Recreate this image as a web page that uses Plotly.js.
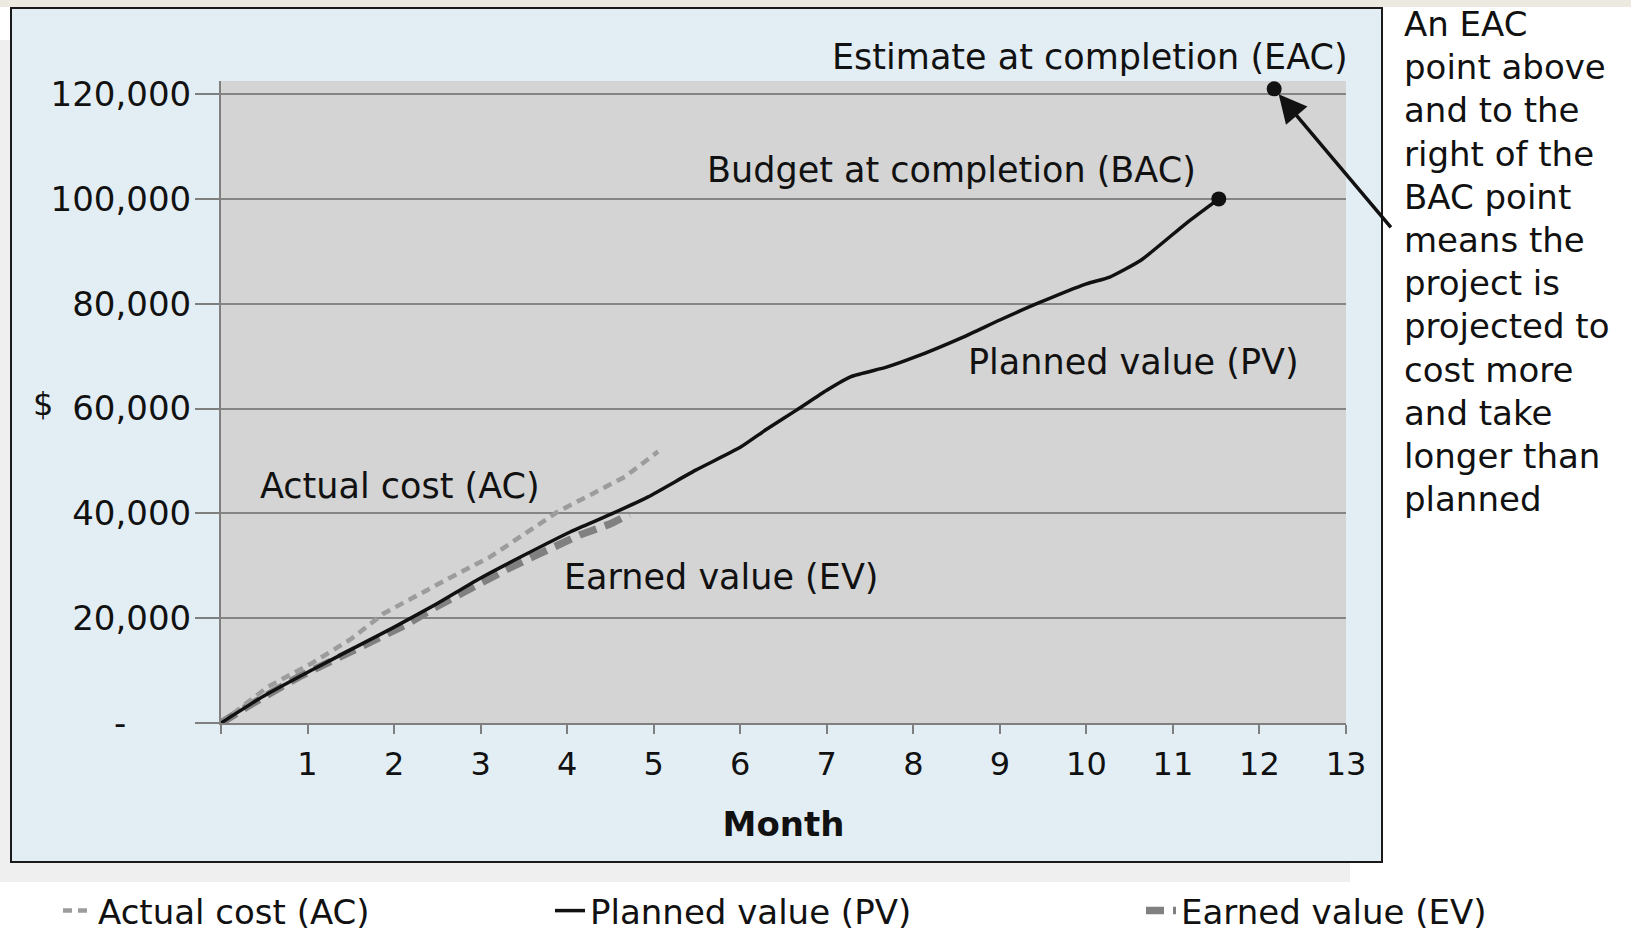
<!DOCTYPE html>
<html>
<head>
<meta charset="utf-8">
<script src="https://cdn.plot.ly/plotly-3.0.1.min.js"></script>
<style>
  html, body { margin: 0; padding: 0; background: #ffffff; }
  #chart { width: 1631px; height: 937px; }
</style>
</head>
<body>
<div id="chart"></div>
<script>
// ---- Data ----
const pvMonths = [0, 0.5, 1.05, 1.5, 1.98, 2.5, 2.96, 3.5, 4.04, 4.5, 4.93, 5.48, 6.0, 6.3, 6.65, 7.0, 7.28, 7.69, 8.0, 8.57, 9.0, 9.44, 10.0, 10.27, 10.63, 11.15, 11.53];
const pvValues = [0, 5200, 10100, 14000, 18100, 22800, 27300, 32000, 36500, 39800, 43100, 48200, 52600, 56000, 59700, 63500, 66100, 67900, 69700, 73600, 76900, 80100, 83800, 85100, 88300, 95300, 100000];

const acMonths = [0, 0.54, 1.05, 1.5, 1.88, 2.3, 2.6, 3.11, 3.63, 3.89, 4.3, 4.67, 5.05];
const acValues = [0, 6900, 11400, 16000, 20900, 24500, 27300, 31700, 37500, 40300, 43800, 47000, 51800];

const evMonths = [0, 0.33, 0.9, 1.3, 1.72, 2.13, 2.5, 2.91, 3.3, 3.73, 4.15, 4.5, 4.72];
const evValues = [0, 3400, 8800, 12000, 15300, 18700, 22300, 26000, 29300, 32700, 35900, 38000, 39800];

const bacPoint = {month: 11.53, value: 100000};
const eacPoint = {month: 12.17, value: 121000};

const yTickVals = [0, 20000, 40000, 60000, 80000, 100000, 120000];
const yTickText = ["-\u2007\u2007\u2007", "20,000", "40,000", "60,000", "80,000", "100,000", "120,000"];
const xTickVals = [0, 1, 2, 3, 4, 5, 6, 7, 8, 9, 10, 11, 12, 13];
const xTickText = ["", "1", "2", "3", "4", "5", "6", "7", "8", "9", "10", "11", "12", "13"];

const seriesNames = {ac: "Actual cost (AC)", pv: "Planned value (PV)", ev: "Earned value (EV)"};
const noteLines = ["An EAC", "point above", "and to the", "right of the", "BAC point", "means the", "project is", "projected to", "cost more", "and take", "longer than", "planned"];

// ---- Styling / layout ----
const FONT = "DejaVu Sans";
const TXT = "#111111";

// helpers converting reference pixel positions into paper coords for decoration
const L = 221, R = 285, T = 81, B = 214, W = 1631, H = 937;
const PW = W - L - R, PH = H - T - B;
const px = v => (v - L) / PW;
const py = v => (H - B - v) / PH;

const traces = [
  {
    x: evMonths, y: evValues, name: seriesNames.ev, type: "scatter", mode: "lines",
    line: {color: "#808080", width: 7.5, dash: "18px,9px"},
    legend: "legend3", hoverinfo: "skip"
  },
  {
    x: acMonths, y: acValues, name: seriesNames.ac, type: "scatter", mode: "lines",
    line: {color: "#9c9c9c", width: 4.5, dash: "9px,6px"},
    legend: "legend", hoverinfo: "skip"
  },
  {
    x: pvMonths, y: pvValues, name: seriesNames.pv, type: "scatter", mode: "lines",
    line: {color: "#111111", width: 3.5, shape: "spline", smoothing: 0.5},
    legend: "legend2", hoverinfo: "skip"
  },
  {
    x: [bacPoint.month, eacPoint.month], y: [bacPoint.value, eacPoint.value],
    type: "scatter", mode: "markers", showlegend: false, cliponaxis: false,
    marker: {color: "#111111", size: 15}, hoverinfo: "skip"
  }
];

const annFont = {family: FONT, size: 35, color: TXT};
const legendBase = {
  orientation: "h", xanchor: "left", y: py(911), yanchor: "middle",
  font: {family: FONT, size: 34, color: TXT}, bgcolor: "rgba(0,0,0,0)", itemwidth: 30
};

const noteAnnotations = noteLines.map((line, i) => ({
  text: line, xref: "paper", yref: "paper",
  x: px(1402), y: py(24 + i * 43.2), xanchor: "left", yanchor: "middle", align: "left",
  showarrow: false, font: {family: FONT, size: 34, color: TXT}
}));

const layout = {
  width: W, height: H,
  margin: {l: L, r: R, t: T, b: B, pad: 0, autoexpand: false},
  paper_bgcolor: "#ffffff",
  plot_bgcolor: "rgba(0,0,0,0)",
  font: {family: FONT, color: TXT},
  showlegend: true,
  legend: Object.assign({}, legendBase, {x: px(58)}),
  legend2: Object.assign({}, legendBase, {x: px(550)}),
  legend3: Object.assign({}, legendBase, {x: px(1141)}),
  xaxis: {
    range: [0, 13], tickvals: xTickVals, ticktext: xTickText,
    showgrid: false, zeroline: false,
    showline: true, linecolor: "#7f7f7f", linewidth: 2,
    ticks: "outside", ticklen: 9, tickwidth: 2, tickcolor: "#7f7f7f",
    tickfont: {family: FONT, size: 32, color: TXT}, ticklabelstandoff: 3,
    title: {text: "Month", font: {family: FONT, size: 34, color: TXT, weight: "bold"}, standoff: 30},
    fixedrange: true
  },
  yaxis: {
    range: [0, 122500], tickvals: yTickVals, ticktext: yTickText,
    showgrid: true, gridcolor: "#858585", gridwidth: 2, zeroline: false,
    showline: true, linecolor: "#7f7f7f", linewidth: 2,
    ticks: "outside", ticklen: 24, tickwidth: 2, tickcolor: "#7f7f7f",
    tickfont: {family: FONT, size: 34, color: TXT}, ticklabelstandoff: -3,
    fixedrange: true
  },
  shapes: [
    // top beige band
    {type: "rect", xref: "paper", yref: "paper", layer: "below",
     x0: px(0), x1: px(W), y0: py(0), y1: py(7), fillcolor: "#ece9e1", line: {width: 0}},
    // light shadow left / below the frame
    {type: "rect", xref: "paper", yref: "paper", layer: "below",
     x0: px(0), x1: px(1350), y0: py(40), y1: py(882), fillcolor: "#efefef", line: {width: 0}},
    // outer chart frame
    {type: "rect", xref: "paper", yref: "paper", layer: "below",
     x0: px(11), x1: px(1382), y0: py(8), y1: py(862), fillcolor: "#e3eef4",
     line: {color: "#1a1a1a", width: 2}},
    // plot area
    {type: "rect", xref: "paper", yref: "paper", layer: "below",
     x0: 0, x1: 1, y0: 0, y1: 1, fillcolor: "#d4d4d4", line: {width: 0}}
  ],
  annotations: [
    {text: "Estimate at completion (EAC)", xref: "paper", yref: "paper",
     x: px(1090), y: py(57), xanchor: "center", yanchor: "middle", showarrow: false, font: annFont},
    {text: "Budget at completion (BAC)", xref: "x", yref: "y",
     x: 8.447, y: 105600, xanchor: "center", yanchor: "middle", showarrow: false, font: annFont},
    {text: "Planned value (PV)", xref: "x", yref: "y",
     x: 10.547, y: 68900, xanchor: "center", yanchor: "middle", showarrow: false, font: annFont},
    {text: "Actual cost (AC)", xref: "x", yref: "y",
     x: 2.063, y: 45260, xanchor: "center", yanchor: "middle", showarrow: false, font: annFont},
    {text: "Earned value (EV)", xref: "x", yref: "y",
     x: 5.789, y: 27800, xanchor: "center", yanchor: "middle", showarrow: false, font: annFont},
    {text: "$", xref: "paper", yref: "paper", x: px(43), y: py(404),
     xanchor: "center", yanchor: "middle", showarrow: false, font: {family: FONT, size: 32, color: TXT}},
    {text: "", xref: "x", yref: "y", x: eacPoint.month, y: eacPoint.value,
     showarrow: true, arrowhead: 2, arrowsize: 1.6, arrowwidth: 3.5, arrowcolor: "#111111",
     ax: 118, ay: 140, standoff: 7}
  ].concat(noteAnnotations)
};

Plotly.newPlot("chart", traces, layout, {displayModeBar: false, staticPlot: true});
</script>
</body>
</html>
